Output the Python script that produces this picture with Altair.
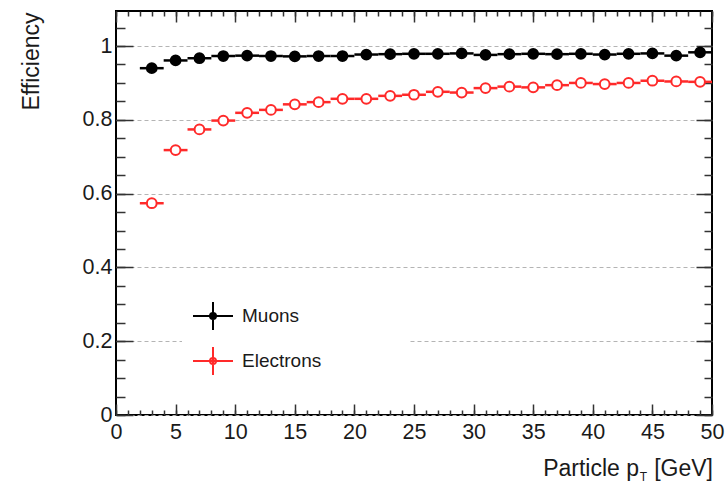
import altair as alt
import pandas as pd

# ---------------- data ----------------
x_centers = [3, 5, 7, 9, 11, 13, 15, 17, 19, 21, 23, 25,
             27, 29, 31, 33, 35, 37, 39, 41, 43, 45, 47, 49]
x_half_width = 1
muon_eff = [0.940, 0.961, 0.967, 0.973, 0.974, 0.973, 0.972, 0.973, 0.973, 0.977, 0.978, 0.979,
            0.979, 0.980, 0.976, 0.978, 0.979, 0.978, 0.979, 0.977, 0.979, 0.980, 0.974, 0.983]
electron_eff = [0.574, 0.718, 0.774, 0.798, 0.819, 0.827, 0.842, 0.848, 0.857, 0.857, 0.865, 0.868,
                0.876, 0.874, 0.886, 0.890, 0.888, 0.894, 0.900, 0.897, 0.900, 0.906, 0.904, 0.903]
series_names = ["Muons", "Electrons"]

x_major = [0, 5, 10, 15, 20, 25, 30, 35, 40, 45, 50]
x_minor = list(range(0, 51))
y_major = [0, 0.2, 0.4, 0.6, 0.8, 1.0]
y_minor = [0, 0.05, 0.1, 0.15, 0.2, 0.25, 0.3, 0.35, 0.4, 0.45, 0.5, 0.55,
           0.6, 0.65, 0.7, 0.75, 0.8, 0.85, 0.9, 0.95, 1.0, 1.05]
x_domain = [0, 50]
y_domain = [0, 1.095]

# ---------------- table ----------------
rows = []
for name, effs in zip(series_names, [muon_eff, electron_eff]):
    for xc, e in zip(x_centers, effs):
        rows.append({"series": name, "x": xc, "lo": xc - x_half_width,
                     "hi": xc + x_half_width, "eff": e})
df = pd.DataFrame(rows)
one = pd.DataFrame({"k": [0]})

W, H = 596, 404
FONT = "Liberation Sans"
TXT = "#1a1a1a"

xs = alt.Scale(domain=x_domain, nice=False, zero=False)
ys = alt.Scale(domain=y_domain, nice=False, zero=False)
stroke_scale = alt.Scale(domain=series_names, range=["#000000", "#ff2a2a"])
fill_scale = alt.Scale(domain=series_names, range=["#000000", "#ffffff"])
leg = alt.Legend(title=None, orient="none", legendX=76, legendY=284)

base_x_axis = alt.Axis(orient="bottom", values=x_major, ticks=False, tickSize=0, domain=False,
                       grid=False, title=None, labelFontSize=21.5, labelFont=FONT,
                       labelColor=TXT, labelPadding=6, labelFlush=False, labelOverlap=False)
base_y_axis = alt.Axis(orient="left", values=y_major, format="~g", ticks=False, tickSize=0,
                       domain=False, grid=True, gridDash=[4, 3], gridColor="#b4b4b4",
                       gridWidth=1, labelFontSize=21.5, labelFont=FONT, labelColor=TXT,
                       labelPadding=4, labelOverlap=False, labelFlush=False,
                       title="Efficiency", titleFontSize=23, titleFont=FONT,
                       titleFontWeight="normal", titleColor=TXT, titleAngle=270,
                       titleAlign="right", titleBaseline="alphabetic",
                       titleX=-78, titleY=1)


def tick_axis(orient, offset, values, size):
    return alt.Axis(orient=orient, offset=offset, values=values, tickSize=size, ticks=True,
                    labels=False, domain=False, grid=False, title=None,
                    tickColor="#333333", tickWidth=1.5)


bg = alt.Chart(one).mark_rect(fill="white").encode(
    x=alt.value(66), x2=alt.value(294), y=alt.value(275), y2=alt.value(386))

bars = alt.Chart(df).mark_rule(strokeWidth=2.5).encode(
    x=alt.X("lo:Q", scale=xs, axis=base_x_axis),
    x2="hi:Q",
    y=alt.Y("eff:Q", scale=ys, axis=base_y_axis),
    stroke=alt.Stroke("series:N", scale=stroke_scale, legend=leg),
)

points = alt.Chart(df).mark_point(shape="circle", size=95, strokeWidth=2, opacity=1).encode(
    x=alt.X("x:Q", scale=xs, axis=tick_axis("top", -H, x_major, 11)),
    y=alt.Y("eff:Q", scale=ys, axis=tick_axis("right", -W, y_major, 17)),
    stroke=alt.Stroke("series:N", scale=stroke_scale, legend=leg),
    fill=alt.Fill("series:N", scale=fill_scale, legend=leg),
)


def ghost(ax, ay):
    return alt.Chart(df).mark_point(opacity=0).encode(
        x=alt.X("x:Q", scale=xs, axis=ax),
        y=alt.Y("eff:Q", scale=ys, axis=ay),
    )


g1 = ghost(tick_axis("top", -H, x_minor, 5), tick_axis("right", -W, y_minor, 9))
g2 = ghost(tick_axis("bottom", -H, x_major, 11), tick_axis("left", -W, y_major, 16))
g3 = ghost(tick_axis("bottom", -H, x_minor, 5), tick_axis("left", -W, y_minor, 8))

t_unit = alt.Chart(one).mark_text(text="[GeV]", align="right", baseline="alphabetic",
                                  fontSize=23, font=FONT, color=TXT).encode(
    x=alt.value(597), y=alt.value(465))
t_sub = alt.Chart(one).mark_text(text="T", align="right", baseline="alphabetic",
                                 fontSize=12, font=FONT, color=TXT).encode(
    x=alt.value(531), y=alt.value(470))
t_main = alt.Chart(one).mark_text(text="Particle p", align="right", baseline="alphabetic",
                                  fontSize=23, font=FONT, color=TXT).encode(
    x=alt.value(523), y=alt.value(465))

chart = alt.layer(bg, bars, points, g1, g2, g3, t_unit, t_sub, t_main).resolve_axis(
    x="independent", y="independent"
).properties(
    width=W, height=H,
    padding={"left": 116, "top": 11, "right": 16, "bottom": 69},
    autosize=alt.AutoSizeParams(type="none"),
    background="white",
).configure_view(
    stroke="#000000", strokeWidth=2
).configure_legend(
    symbolType="M-1,0H1M0,-0.7V0.7M0.15,0A0.15,0.15,0,1,1,-0.15,0A0.15,0.15,0,1,1,0.15,0Z",
    symbolSize=1600, symbolStrokeWidth=2, labelFontSize=19, labelFont=FONT,
    labelColor=TXT, labelOffset=8, rowPadding=6, padding=0,
)

chart.save("out.html", embed_options={"renderer": "svg", "actions": False})
